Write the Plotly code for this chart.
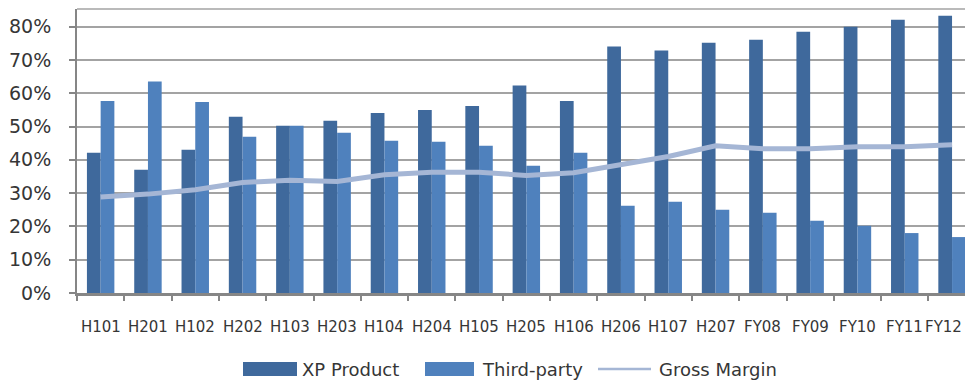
import plotly.graph_objects as go

# Period labels
periods = ["H101", "H201", "H102", "H202", "H103", "H203", "H104", "H204", "H105",
           "H205", "H106", "H206", "H107", "H207", "FY08", "FY09", "FY10", "FY11", "FY12"]

# Share of revenue by source (fractions)
xp_product = [0.421, 0.370, 0.430, 0.529, 0.502, 0.517, 0.541, 0.550, 0.562,
              0.623, 0.577, 0.740, 0.728, 0.752, 0.761, 0.785, 0.800, 0.821, 0.833]
third_party = [0.577, 0.635, 0.574, 0.469, 0.502, 0.481, 0.457, 0.454, 0.442,
               0.382, 0.421, 0.262, 0.274, 0.250, 0.241, 0.217, 0.202, 0.180, 0.168]
gross_margin = [0.288, 0.297, 0.310, 0.332, 0.339, 0.335, 0.355, 0.363, 0.363,
                0.353, 0.361, 0.385, 0.410, 0.442, 0.433, 0.433, 0.439, 0.439, 0.445]

C_XP = "#3f699c"
C_TP = "#4f81bd"
C_GM = "#a5b6d5"
TXT = "#363636"
GRID = "#a3a3a3"
AXIS = "#868686"
FONT = "DejaVu Sans"

W, H = 965, 382
L, T, B = 77, 9, 293          # plot-area edges in pixels
SLOT = 47.3                   # pixel width of one category slot


def px(x):
    return (x - L) / (W - L)


def py(y):
    return (B - y) / (B - T)


fig = go.Figure()
fig.add_trace(go.Bar(x=periods, y=xp_product, name="XP Product",
                     marker=dict(color=C_XP, line=dict(width=0)), showlegend=False))
fig.add_trace(go.Bar(x=periods, y=third_party, name="Third-party",
                     marker=dict(color=C_TP, line=dict(width=0)), showlegend=False))
fig.add_trace(go.Scatter(x=periods, y=gross_margin, name="Gross Margin", mode="lines",
                         line=dict(color=C_GM, width=5), showlegend=False))

# Hand-built legend row under the chart
shapes = [
    dict(type="line", xref="paper", yref="paper", x0=0, x1=1, y0=1, y1=1,
         line=dict(color=GRID, width=1.5)),
    dict(type="rect", xref="paper", yref="paper", x0=px(243), x1=px(297),
         y0=py(376), y1=py(362), fillcolor=C_XP, line=dict(width=0)),
    dict(type="rect", xref="paper", yref="paper", x0=px(425), x1=px(474),
         y0=py(376), y1=py(362), fillcolor=C_TP, line=dict(width=0)),
    dict(type="line", xref="paper", yref="paper", x0=px(598), x1=px(651),
         y0=py(369), y1=py(369), line=dict(color=C_GM, width=2.5)),
]
annotations = []
for label, x in [("XP Product", 300), ("Third-party", 480), ("Gross Margin", 657)]:
    annotations.append(dict(text=label, xref="paper", yref="paper", x=px(x), y=py(369),
                            xanchor="left", yanchor="middle", showarrow=False,
                            font=dict(family=FONT, size=18, color=TXT)))

# Category labels under the axis; the last one is kept inside the right edge
for i, name in enumerate(periods):
    last = i == len(periods) - 1
    annotations.append(dict(
        text=name, xref="paper" if last else "x", yref="paper",
        x=1 if last else name, y=py(327.5), xshift=-1 if last else 0,
        xanchor="right" if last else "center", yanchor="middle", showarrow=False,
        font=dict(family=FONT, size=15, color=TXT)))

n_visible = (W - L) / SLOT
fig.update_layout(
    width=W, height=H,
    margin=dict(l=L, r=0, t=T, b=H - B),
    paper_bgcolor="white", plot_bgcolor="white",
    barmode="group", bargap=0.42, bargroupgap=0,
    shapes=shapes, annotations=annotations,
    xaxis=dict(
        type="category", range=[-0.5, -0.5 + n_visible], automargin=False,
        showline=True, linecolor=AXIS, linewidth=2.5,
        ticks="outside", tickson="boundaries", ticklen=5, tickwidth=1.5, tickcolor=AXIS,
        showgrid=False, showticklabels=False,
    ),
    yaxis=dict(
        range=[0, 0.853], dtick=0.1, tickformat=".0%", automargin=False,
        showline=True, linecolor=AXIS, linewidth=2,
        ticks="outside", ticklen=6, tickwidth=1.5, tickcolor=AXIS,
        showgrid=True, gridcolor=GRID, gridwidth=1.5, zeroline=False,
        ticklabelstandoff=14,
        tickfont=dict(family=FONT, size=19, color=TXT),
    ),
)

fig.write_html("out.html")
